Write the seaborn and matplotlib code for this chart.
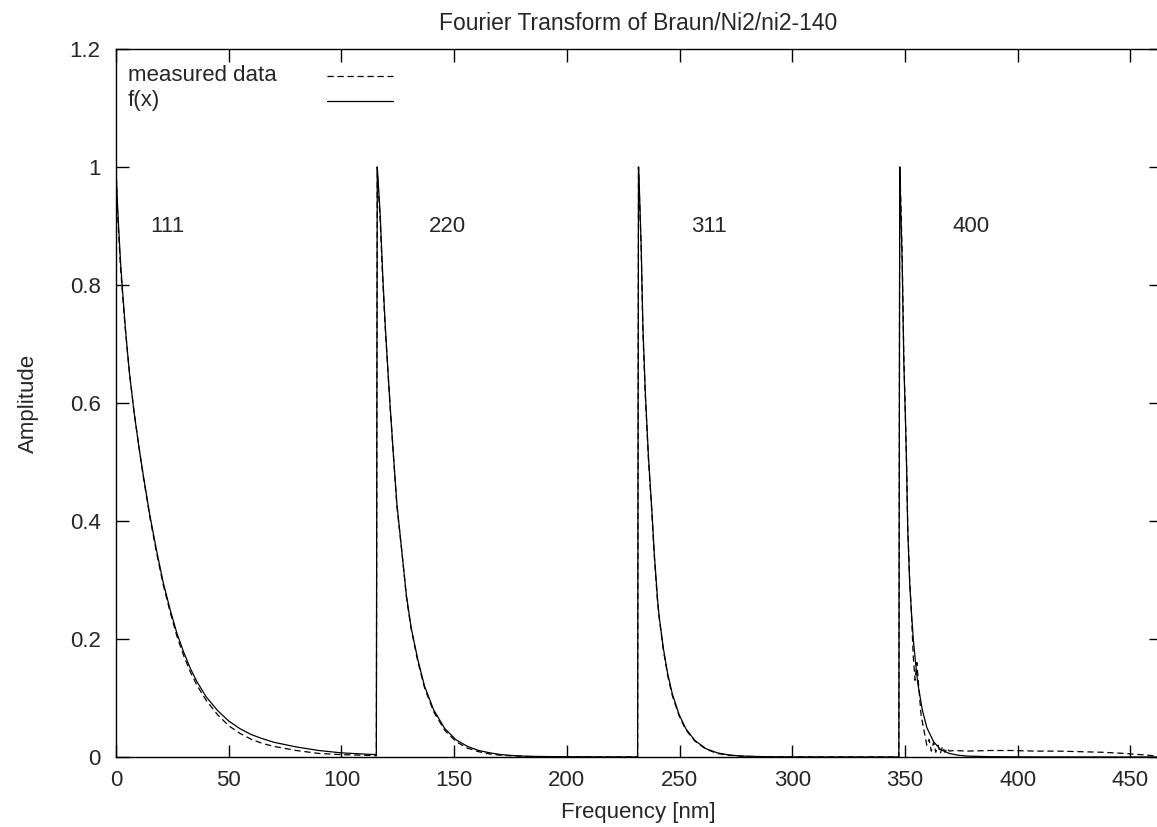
import numpy as np
import pandas as pd
import seaborn as sns
import matplotlib.pyplot as plt

# peak names, where each Fourier-transform segment starts, and label positions
peak_names = ["111", "220", "311", "400"]
peak_starts = [0.0, 115.9, 231.8, 347.7]
label_x = [15, 139, 255, 371]
label_y = 0.9

# local offsets (nm) from each segment start and amplitudes
off_111 = [0, 0.5, 1, 2, 3, 4, 5, 6, 8, 10, 12, 15, 18, 21, 24, 27, 30, 33, 36,
           40, 45, 50, 55, 60, 65, 70, 80, 90, 100, 110, 115.5]
fit_111 = [1.0, 0.95, 0.91, 0.84, 0.785, 0.735, 0.69, 0.65, 0.585, 0.53, 0.48,
           0.41, 0.35, 0.295, 0.25, 0.21, 0.178, 0.15, 0.127, 0.102, 0.079, 0.061,
           0.048, 0.038, 0.031, 0.025, 0.017, 0.011, 0.007, 0.005, 0.004]
meas_111 = [1.0, 0.94, 0.90, 0.83, 0.78, 0.73, 0.69, 0.65, 0.585, 0.53, 0.478,
            0.407, 0.346, 0.291, 0.246, 0.205, 0.172, 0.144, 0.121, 0.096, 0.072,
            0.053, 0.040, 0.030, 0.023, 0.018, 0.011, 0.006, 0.004, 0.003, 0.002]

off_220 = [0, 0.5, 1.3, 2.4, 3.5, 4.8, 5.8, 7.2, 8.7, 11, 12.9, 15, 18, 21, 25, 30,
           35, 40, 45, 50, 55, 60, 65, 70, 80, 100, 115.5]
fit_220 = [1.0, 0.97, 0.92, 0.82, 0.735, 0.65, 0.59, 0.51, 0.43, 0.345, 0.275, 0.22,
           0.165, 0.12, 0.08, 0.048, 0.029, 0.018, 0.011, 0.007, 0.004, 0.0025,
           0.0015, 0.001, 0.0005, 0.0002, 0.0001]
meas_220 = [1.0, 0.96, 0.91, 0.81, 0.73, 0.65, 0.59, 0.51, 0.425, 0.345, 0.272, 0.218,
            0.162, 0.117, 0.077, 0.045, 0.026, 0.015, 0.009, 0.005, 0.003, 0.002,
            0.001, 0.0005, 0.0003, 0.0001, 0.0001]

off_311 = [0, 0.5, 1.2, 1.95, 3, 4.4, 5.9, 7, 8.4, 9.1, 11, 13, 15, 18, 21, 25, 30,
           35, 40, 45, 50, 60, 80, 115.5]
fit_311 = [1.0, 0.95, 0.865, 0.73, 0.62, 0.51, 0.42, 0.345, 0.27, 0.24, 0.185, 0.14,
           0.107, 0.072, 0.048, 0.028, 0.014, 0.007, 0.0035, 0.0018, 0.001, 0.0003,
           0.0001, 0.0]
meas_311 = [1.0, 0.94, 0.86, 0.72, 0.615, 0.505, 0.415, 0.34, 0.265, 0.238, 0.182,
            0.137, 0.104, 0.07, 0.046, 0.027, 0.013, 0.006, 0.003, 0.0015, 0.001,
            0.0003, 0.0001, 0.0]

off_400_fit = [0, 0.5, 1.07, 1.8, 2.5, 3, 3.55, 4.4, 5.1, 6, 7, 8, 10, 12, 15, 18,
               22, 26, 30, 40, 60, 115.9]
fit_400 = [1.0, 0.92, 0.84, 0.67, 0.575, 0.5, 0.385, 0.295, 0.25, 0.2, 0.16, 0.125,
           0.08, 0.05, 0.026, 0.013, 0.006, 0.003, 0.0015, 0.0005, 0.0001, 0.0]
off_400_meas = [0, 0.5, 1.07, 1.8, 2.5, 3, 3.55, 4.4, 5.1, 6, 6.8, 7.6, 8.4, 9.5,
                11, 12, 13, 14, 15, 16, 17, 18, 19, 20, 21, 22, 24, 30, 40, 50, 60,
                70, 80, 90, 100, 110, 115.9]
meas_400 = [1.0, 0.94, 0.85, 0.68, 0.58, 0.5, 0.39, 0.3, 0.25, 0.17, 0.13, 0.16,
            0.12, 0.07, 0.04, 0.02, 0.03, 0.01, 0.025, 0.008, 0.02, 0.006, 0.018,
            0.008, 0.015, 0.01, 0.011, 0.01, 0.011, 0.011, 0.01, 0.01, 0.009, 0.008,
            0.006, 0.003, 0.001]

x_ticks = [0, 50, 100, 150, 200, 250, 300, 350, 400, 450]
y_ticks = [0, 0.2, 0.4, 0.6, 0.8, 1.0, 1.2]
y_tick_labels = ["0", "0.2", "0.4", "0.6", "0.8", "1", "1.2"]
x_max = 463.6


def build(offsets, values):
    xs, ys = [], []
    for start, off, val in zip(peak_starts, offsets, values):
        xs += [start + o for o in off]
        ys += list(val)
    return pd.DataFrame({"freq": xs, "amp": ys})


df_meas = build([off_111, off_220, off_311, off_400_meas],
                [meas_111, meas_220, meas_311, meas_400])
df_fit = build([off_111, off_220, off_311, off_400_fit],
               [fit_111, fit_220, fit_311, fit_400])

sns.set_style("ticks")
plt.rcParams["font.family"] = ["Liberation Sans", "DejaVu Sans"]

fig = plt.figure(figsize=(11.57, 8.27), dpi=100)
ax = fig.add_axes([116 / 1157, 70 / 827, 1045 / 1157, 708 / 827])

sns.lineplot(data=df_meas, x="freq", y="amp", ax=ax, color="black", lw=0.9,
             linestyle=(0, (5, 3)), sort=False, estimator=None)
sns.lineplot(data=df_fit, x="freq", y="amp", ax=ax, color="black", lw=0.9,
             sort=False, estimator=None)

for name, lx in zip(peak_names, label_x):
    ax.text(lx, label_y, name, fontsize=16, ha="left", va="center")

# gnuplot-style key: text on the left, line sample on the right
ax.text(0.0115, 0.962, "measured data", transform=ax.transAxes, fontsize=16,
        va="center", ha="left")
ax.text(0.0115, 0.927, "f(x)", transform=ax.transAxes, fontsize=16,
        va="center", ha="left")
ax.plot([0.202, 0.265], [0.962, 0.962], transform=ax.transAxes, color="black",
        lw=0.9, linestyle=(0, (5, 3)))
ax.plot([0.202, 0.265], [0.926, 0.926], transform=ax.transAxes, color="black",
        lw=0.9)

ax.set_xlim(0, x_max)
ax.set_ylim(0, 1.2)
ax.set_xticks(x_ticks)
ax.set_yticks(y_ticks)
ax.set_yticklabels(y_tick_labels)
ax.tick_params(direction="in", length=9, width=1, top=True, right=True,
               labelsize=16, color="black")
ax.tick_params(axis="y", pad=11)
ax.tick_params(axis="x", pad=9)
for sp in ax.spines.values():
    sp.set_color("black")
    sp.set_linewidth(1)

ax.set_xlabel("Frequency [nm]", fontsize=16, labelpad=8)
ax.set_ylabel("Amplitude", fontsize=16, labelpad=22)
ax.set_title("Fourier Transform of Braun/Ni2/ni2-140", fontsize=16.5, pad=14)

fig.savefig("out.png", dpi=100)
